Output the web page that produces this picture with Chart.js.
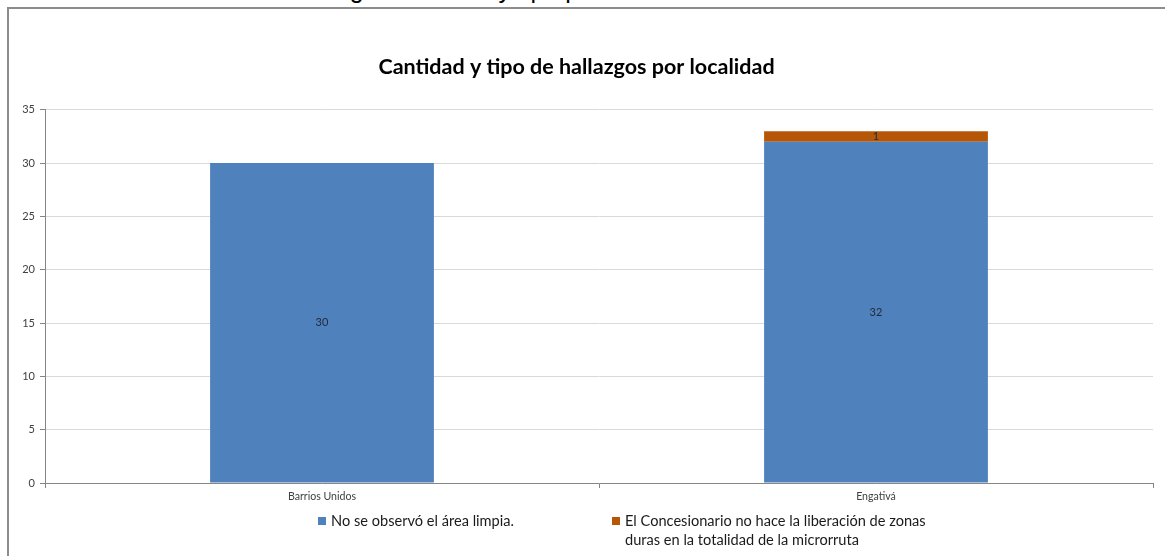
<!DOCTYPE html>
<html>
<head>
<meta charset="utf-8">
<script src="https://cdn.jsdelivr.net/npm/chart.js@4"></script>
<style>
  html, body { margin: 0; padding: 0; background: #fff; overflow: hidden; }
  #wrap { position: relative; width: 1165px; height: 556px; }
  #caption {
    position: absolute; left: 165px; top: -23px;
    font: 25px "Liberation Sans", Arial, sans-serif; line-height: 25px;
    color: #000; white-space: nowrap;
  }
  #frame {
    position: absolute; left: 7px; top: 7px; width: 1200px; height: 600px;
    border-left: 2px solid #8c8c8c; border-top: 2px solid #8c8c8c;
    background: #fff;
  }
  #chart { position: absolute; left: 0; top: 0; }
  #legend {
    position: absolute; top: 511px; left: 0;
    font: 14.6px Lato, sans-serif; color: #1a1a1a; line-height: 19px;
  }
  .item { position: absolute; white-space: nowrap; }
  .item .box { position: absolute; left: 0; top: 6px; width: 8px; height: 8px; }
  .item .txt { position: absolute; left: 13px; top: 0; }
</style>
</head>
<body>
<div id="wrap">
  <div id="caption">Gráfica 4. Hallazgos cantidad y tipo por localidad</div>
  <div id="frame"></div>
  <canvas id="chart" width="1165" height="556"></canvas>
  <div id="legend"></div>
</div>
<script>
  'use strict';

  const categories = ['Barrios Unidos', 'Engativá'];
  const noAreaLimpia = [30, 32];
  const noLiberacion = [0, 1];
  const seriesLabels = [
    'No se observó el área limpia.',
    ['El Concesionario no hace la liberación de zonas', 'duras en la totalidad de la microrruta']
  ];
  const seriesColors = ['#4f81bd', '#b65708'];
  const yMax = 35;
  const yStep = 5;

  // value labels centred in each bar segment
  const barValues = {
    id: 'barValues',
    afterDatasetsDraw: function (chart) {
      const ctx = chart.ctx;
      ctx.save();
      ctx.font = '11px Lato, sans-serif';
      ctx.fillStyle = '#1f2a38';
      ctx.textAlign = 'center';
      ctx.textBaseline = 'middle';
      chart.data.datasets.forEach(function (ds, i) {
        chart.getDatasetMeta(i).data.forEach(function (bar, j) {
          const v = ds.data[j];
          if (!v) return;
          ctx.fillText(String(v), bar.x, (bar.y + bar.base) / 2);
        });
      });
      ctx.restore();
    }
  };

  const chart = new Chart(document.getElementById('chart'), {
    type: 'bar',
    data: {
      labels: categories,
      datasets: [
        { label: 'No se observó el área limpia.', data: noAreaLimpia, backgroundColor: seriesColors[0] },
        { label: 'El Concesionario no hace la liberación de zonas duras en la totalidad de la microrruta', data: noLiberacion, backgroundColor: seriesColors[1] }
      ]
    },
    options: {
      responsive: false,
      animation: false,
      layout: { padding: { top: 7, right: 12, bottom: 0, left: 0 } },
      datasets: { bar: { categoryPercentage: 1, barPercentage: 0.404 } },
      plugins: {
        legend: { display: false },
        tooltip: { enabled: false },
        title: {
          display: true,
          text: 'Cantidad y tipo de hallazgos por localidad',
          color: '#000',
          font: { family: 'Lato, sans-serif', size: 21.5, weight: 'bold', lineHeight: 1.2 },
          padding: { top: 47, bottom: 30 }
        }
      },
      scales: {
        x: {
          stacked: true,
          grid: { offset: true, drawOnChartArea: false, tickLength: 5, color: '#868686' },
          border: { color: '#868686' },
          ticks: { color: '#404040', font: { family: 'Lato, sans-serif', size: 10.6 }, padding: 2 },
          afterFit: function (s) { s.height = 73; }
        },
        y: {
          stacked: true,
          min: 0,
          max: yMax,
          ticks: { stepSize: yStep, color: '#404040', font: { family: 'Lato, sans-serif', size: 11 }, padding: 5 },
          grid: { color: '#d9d9d9', tickColor: '#868686', tickLength: 5 },
          border: { color: '#868686' },
          afterFit: function (s) { s.width = 45; }
        }
      }
    },
    plugins: [barValues]
  });

  // legend kept as html so the second entry can wrap onto two lines
  const legendPos = [318, 612];
  const legend = document.getElementById('legend');
  seriesLabels.forEach(function (lbl, i) {
    const item = document.createElement('div');
    item.className = 'item';
    item.style.left = legendPos[i] + 'px';
    const box = document.createElement('span');
    box.className = 'box';
    box.style.background = seriesColors[i];
    const txt = document.createElement('span');
    txt.className = 'txt';
    txt.innerHTML = [].concat(lbl).join('<br>');
    item.appendChild(box);
    item.appendChild(txt);
    legend.appendChild(item);
  });
</script>
</body>
</html>
